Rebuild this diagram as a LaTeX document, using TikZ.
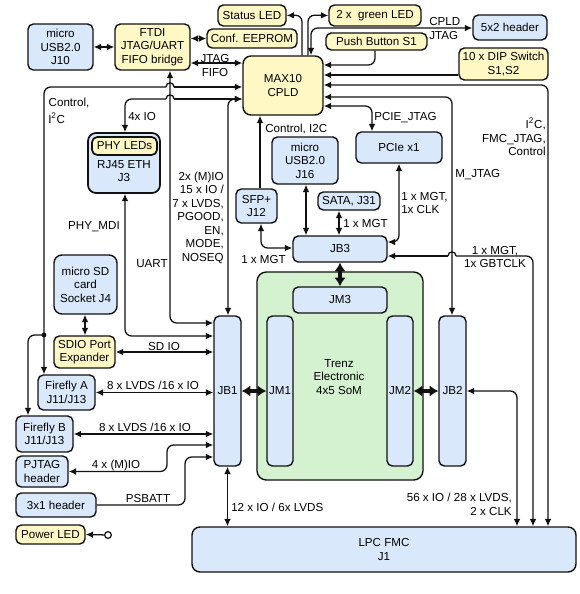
\documentclass[tikz,border=0pt]{standalone}
\usepackage{fontspec}
\setmainfont{Liberation Sans}
\usetikzlibrary{arrows.meta}
\definecolor{bl}{HTML}{DAE8FC}
\definecolor{yl}{HTML}{FFF8C4}
\definecolor{gr}{HTML}{D5F2D0}
\definecolor{ln}{HTML}{111111}
\begin{document}
\begin{tikzpicture}[x=0.75pt,y=-0.75pt,
  font=\fontsize{8.7}{10.2}\selectfont,
  >={Latex[length=5.5pt,width=5pt]},
  box/.style={draw=ln, line width=1.05pt, rounded corners=4pt, inner sep=0pt, align=center},
  bbox/.style={box, fill=bl},
  ybox/.style={box, fill=yl},
  sz/.style 2 args={minimum width=#1*0.75pt, minimum height=#2*0.75pt},
  wire/.style={draw=ln, line width=0.95pt, rounded corners=5pt},
  big/.style={draw=ln, line width=2.4pt, {Latex[length=6.5pt,width=8.5pt]}-{Latex[length=6.5pt,width=8.5pt]}},
  lbl/.style={inner sep=0pt, align=left},
  lblc/.style={inner sep=0pt, align=center},
  lblr/.style={inner sep=0pt, align=right}]
\useasboundingbox (0,0) rectangle (580,594);

% ---------- nodes ----------
\node[bbox, sz={65}{46}] (usb10) at (60.5,47) {micro\\USB2.0\\J10};
\node[ybox, sz={75}{46}] (ftdi) at (152.5,47) {FTDI\\JTAG/UART\\FIFO bridge};
\node[ybox, sz={68}{21}] (status) at (252,15.5) {Status LED};
\node[ybox, sz={90}{19}] (eeprom) at (252,38.5) {Conf. EEPROM};
\node[ybox, sz={92}{21}] (green) at (375,15.5) {2 x \ green LED};
\node[ybox, sz={101}{17}] (push) at (376.5,41.5) {Push Button S1};
\node[bbox, sz={74}{25}] (hdr52) at (510,27.5) {5x2 header};
\node[ybox, sz={89}{32}] (dip) at (503.5,64) {10 x DIP Switch\\S1,S2};
\node[ybox, sz={80}{59}, rounded corners=6pt] (max10) at (283,85.5) {MAX10\\CPLD};

\node[bbox, sz={72}{60}, line width=1.3pt, rounded corners=6pt] (rj45) at (124,163) {};
\node[ybox, sz={65}{18}, line width=1.3pt] (phy) at (124.5,146) {PHY LEDs};
\node[lblc] (rj45t) at (124,171) {RJ45 ETH\\J3};

\node[bbox, sz={66}{47}] (j16) at (305,160.5) {micro\\USB2.0\\J16};
\node[bbox, sz={86}{31}] (pcie) at (399,147.5) {PCIe x1};
\node[bbox, sz={41}{34}] (sfp) at (256.5,206) {SFP+\\J12};
\node[bbox, sz={62}{18}] (sata) at (349,201) {SATA, J31};
\node[bbox, sz={94}{26}] (jb3) at (340,249) {JB3};

\node[box, fill=gr, sz={166}{208}, rounded corners=7pt] (som) at (340,376) {};
\node[lblc] (somt) at (339,377) {Trenz\\Electronic\\4x5 SoM};
\node[bbox, sz={94}{26}] (jm3) at (340,300) {JM3};
\node[bbox, sz={26}{150}] (jm1) at (280,391) {JM1};
\node[bbox, sz={26}{150}] (jm2) at (400,391) {JM2};
\node[bbox, sz={27}{150}] (jb1) at (227.5,391) {JB1};
\node[bbox, sz={27}{150}] (jb2) at (452.5,391) {JB2};

\node[bbox, sz={63}{59}, rounded corners=6pt] (sdcard) at (85.5,284.5) {micro SD\\card\\Socket J4};
\node[ybox, sz={61}{32}] (sdio) at (84.5,352) {SDIO Port\\Expander};
\node[bbox, sz={57}{35}] (ffa) at (66.5,392.5) {Firefly A\\J11/J13};
\node[bbox, sz={57}{36}] (ffb) at (44.5,434) {Firefly B\\J11/J13};
\node[bbox, sz={52}{31}] (pjtag) at (42,471.5) {PJTAG\\header};
\node[bbox, sz={80}{24}] (hdr31) at (56,505) {3x1 header};
\node[ybox, sz={69}{19}] (pled) at (50.5,534.5) {Power LED};
\node[bbox, sz={384}{45}, rounded corners=6pt] (fmc) at (384,549.5) {LPC FMC\\J1};
\node[circle, draw=ln, line width=0.9pt, fill=white, inner sep=0pt, minimum size=5pt] (pwr) at (108,535) {};

% ---------- connectors: top left ----------
\draw[wire,<->] (usb10) -- (ftdi);
\draw[wire,<->] (ftdi.east |- eeprom.west) -- (eeprom.west);
\draw[wire,<->] (ftdi.east |- 0,63) -- (max10.west |- 0,63);
\node[lblc] (ljtag) at (215,58.5) {JTAG};
\node[lblc] (lfifo) at (215,72.5) {FIFO};

% Control, I2C (MAX10 -> Firefly A/B)
\coordinate (dotA) at (44,335);
\draw[wire,<-] (max10.west |- 0,87) -- (174,87);
\draw[wire] (174,87) .. controls (174,81.5) and (166,81.5) .. (166,87);
\draw[wire,->] (166,87) -- (44,87) -- (44,0 |- ffa.north);
\fill[ln] (dotA) circle (1.8pt);
\draw[wire,->] (dotA) -- (28,335) -- (28,0 |- ffb.north);
\node[lbl] (lctl) at (69,103) {Control,};
\node[lbl, anchor=west] (li2c) at (48,118) {I\textsuperscript{2}C};

% 4x IO (MAX10 -> PHY LEDs)
\draw[wire,<-] (max10.west |- 0,99) -- (174,99);
\draw[wire] (174,99) .. controls (174,93.5) and (166,93.5) .. (166,99);
\draw[wire,->] (166,99) -- (125,99) -- (125,0 |- rj45.north);
\node[lbl, anchor=west] (l4xio) at (128,117) {4x IO};

% 2x (M)IO ... (MAX10 -> JB1)
\draw[wire,<->] (max10.west |- 0,99) -- (228,99) -- (228,0 |- jb1.north);
\node[lblr, anchor=east, font=\fontsize{8.7}{10.1}\selectfont] (lmio) at (224,217.5) {2x (M)IO\\15 x IO /\\7 x LVDS,\\PGOOD,\\EN,\\MODE,\\NOSEQ};

% UART
\draw[wire,<->] (170,0 |- ftdi.south) -- (170,323) -- (jb1.west |- 0,323);
\node[lblr, anchor=east] (luart) at (168,264) {UART};

% PHY_MDI
\draw[wire,<->] (125,0 |- rj45.south) -- (125,336) -- (jb1.west |- 0,336);
\node[lblr, anchor=east] (lmdi) at (120,227) {PHY\_MDI};

% SD
\draw[wire,<->] (85,0 |- sdcard.south) -- (85,0 |- sdio.north);
\draw[wire,<->] (sdio.east) -- (jb1.west |- sdio.east);
\node[lblc] (lsdio) at (164,346.5) {SD IO};

% Fireflies
\draw[wire,<->] (ffa.east) -- (jb1.west |- ffa.east);
\node[lblc] (lffa) at (153,385.5) {8 x LVDS /16 x IO};
\draw[wire,<->] (ffb.east) -- (jb1.west |- ffb.east);
\node[lblc] (lffb) at (145,427) {8 x LVDS /16 x IO};

% PJTAG
\draw[wire,<->] (pjtag.east) -- (167,471.5) -- (167,445) -- (jb1.west |- 0,445);
\node[lblc] (lpj) at (116,465.5) {4 x (M)IO};

% PSBATT
\draw[wire,->] (hdr31.east) -- (185,505) -- (185,457) -- (jb1.west |- 0,457);
\node[lblc] (lps) at (148,498.5) {PSBATT};

% Power LED
\draw[wire,->] (pwr) -- (pled.east);

% JB1 <-> FMC
\draw[wire,<->] (jb1.south) -- (jb1.south |- fmc.north);
\node[lbl, anchor=west] (l12io) at (231,507) {12 x IO / 6x LVDS};

% thick board-to-board
\draw[big] (jb1.east) -- (jm1.west);
\draw[big] (jm2.east) -- (jb2.west);
\draw[big] (jb3.south) -- (jm3.north);

% ---------- MAX10 top ----------
\draw[wire,->] (302,0 |- max10.north) -- (302,15) -- (status.east);
\draw[wire,->] (308,0 |- max10.north) -- (308,15) -- (green.west);
\draw[wire,<->] (311,0 |- max10.north) -- (311,28) -- (hdr52.west |- 0,28);
\node[lbl, anchor=west] (lcj) at (429,28.5) {CPLD\\JTAG};

% ---------- MAX10 right ----------
\draw[wire,->] (375,0 |- push.south) -- (375,65) -- (max10.east |- 0,65);
\draw[wire,->] (dip.west |- 0,75) -- (max10.east |- 0,75);
\draw[wire,<->] (max10.east |- 0,85) -- (548,85) -- (548,0 |- fmc.north);
\node[lblr, anchor=east] (lfmcj) at (546,137) {I\textsuperscript{2}C,\\FMC\_JTAG,\\Control};
\draw[wire,<->] (max10.east |- 0,97) -- (452,97) -- (452,0 |- jb2.north);
\node[lbl, anchor=west] (lmj) at (455,175) {M\_JTAG};
\draw[wire,<->] (max10.east |- 0,106) -- (372,106) -- (372,0 |- pcie.north);
\node[lbl, anchor=west] (lpcj) at (374,118) {PCIE\_JTAG};

% ---------- MAX10 bottom ----------
\draw[wire,->] (260,0 |- sfp.north) -- (260,0 |- max10.south);
\node[lbl, anchor=west] (lci2c) at (265,129) {Control, I2C};

% ---------- JB3 area ----------
\draw[wire,<->] (261,0 |- sfp.south) -- (261,248) -- (jb3.west |- 0,248);
\node[lbl, anchor=west] (lsfp) at (241,260) {1 x MGT};
\draw[wire,<->] (306,0 |- j16.south) -- (306,0 |- jb3.north);
\draw[wire,<->] (339,0 |- sata.south) -- (339,0 |- jb3.north);
\node[lbl, anchor=west] (lsata) at (343,224) {1 x MGT};
\draw[wire,<->] (399,0 |- pcie.south) -- (399,242) -- (jb3.east |- 0,242);
\node[lbl, anchor=west] (lpcie) at (401,203) {1 x MGT,\\1x CLK};

% GBTCLK
\draw[wire,<-] (jb3.east |- 0,256) -- (448,256);
\draw[wire] (448,256) .. controls (448,250.5) and (456,250.5) .. (456,256);
\draw[wire,->] (456,256) -- (533,256) -- (533,0 |- fmc.north);
\node[lblc] (lgbt) at (495,257) {1 x MGT,\\1x GBTCLK};

% JB2 -> FMC
\draw[wire,<->] (jb2.east) -- (517,391) -- (517,0 |- fmc.north);
\node[lblr, anchor=east] (l56) at (512,504.5) {56 x IO / 28 x LVDS,\\2 x CLK};
\end{tikzpicture}
\end{document}
